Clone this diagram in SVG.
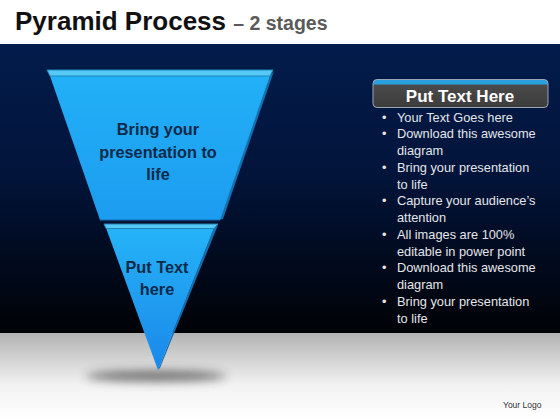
<svg xmlns="http://www.w3.org/2000/svg" width="560" height="420" viewBox="0 0 560 420">
<defs>
<linearGradient id="bg" x1="0" y1="0" x2="0" y2="1">
<stop offset="0" stop-color="#021c4b"/>
<stop offset="0.45" stop-color="#02143a"/>
<stop offset="1" stop-color="#000206"/>
</linearGradient>
<linearGradient id="floor" x1="0" y1="0" x2="0" y2="1">
<stop offset="0" stop-color="#b3b3b3"/>
<stop offset="0.6" stop-color="#f2f2f2"/>
<stop offset="1" stop-color="#ffffff"/>
</linearGradient>
<linearGradient id="face1" x1="0" y1="0" x2="0" y2="1">
<stop offset="0" stop-color="#22b0f7"/>
<stop offset="1" stop-color="#1c9cef"/>
</linearGradient>
<linearGradient id="face2" x1="0" y1="0" x2="0" y2="1">
<stop offset="0" stop-color="#25b3f7"/>
<stop offset="1" stop-color="#1a88ea"/>
</linearGradient>
<linearGradient id="boxg" x1="0" y1="0" x2="0" y2="1">
<stop offset="0" stop-color="#2aa0e0"/>
<stop offset="0.16" stop-color="#2aa0e0"/>
<stop offset="0.2" stop-color="#4a4a4a"/>
<stop offset="1" stop-color="#3c3c3c"/>
</linearGradient>
<filter id="blur" x="-50%" y="-100%" width="200%" height="300%">
<feGaussianBlur stdDeviation="5"/>
</filter>
<style>
.lbl{font-family:"Liberation Sans",Arial,sans-serif;font-weight:bold;font-size:16.3px;fill:#0e2a48;text-anchor:middle}
.bul{font-family:"Liberation Sans",Arial,sans-serif;font-size:12.8px;fill:#e4e6ea}
.top{fill:#56c9f7;stroke:#1f86b8;stroke-width:1}
.side{fill:#1670b0}
</style>
</defs>
<rect x="0" y="0" width="560" height="44" fill="#ffffff"/>
<rect x="0" y="44" width="560" height="289" fill="url(#bg)"/>
<rect x="0" y="333" width="560" height="87" fill="url(#floor)"/>
<text x="15" y="30" font-family="'Liberation Sans',Arial,sans-serif" font-weight="bold" font-size="26" fill="#111111">Pyramid Process <tspan font-size="19.5" fill="#5a5a5a">– 2 stages</tspan></text>
<ellipse cx="156" cy="376" rx="70" ry="6" fill="#333333" opacity="0.6" filter="url(#blur)"/>
<g id="stage1">
<polygon class="side" points="270,76 274,71 223,219 219,220"/>
<polygon points="50,76 270,76 220,220 100,220" fill="url(#face1)"/>
<polygon class="top" points="47,70 273,70 270,76 50,76"/>
<line x1="100" y1="220.5" x2="220" y2="220.5" stroke="#0a3f78" stroke-width="1.5"/>
<text class="lbl" x="158" y="135">Bring your</text>
<text class="lbl" x="158" y="158">presentation to</text>
<text class="lbl" x="158" y="180">life</text>
</g>
<g id="stage2">
<polygon class="side" points="214,228 218,225 160,368 158,370"/>
<polygon points="106,228 214,228 158,370" fill="url(#face2)"/>
<polygon class="top" points="104,224 218,224 214,228.5 106,228.5"/>
<text class="lbl" x="157" y="273">Put Text</text>
<text class="lbl" x="157" y="295">here</text>
</g>
<g id="textbox">
<rect x="373" y="79.5" width="175" height="28" rx="4" fill="url(#boxg)" stroke="#9aa6b4" stroke-width="1"/>
<text x="460" y="101.5" font-family="'Liberation Sans',Arial,sans-serif" font-weight="bold" font-size="17" fill="#ffffff" text-anchor="middle">Put Text Here</text>
<g class="bul">
<text x="382" y="121.5">•</text><text x="397" y="121.5">Your Text Goes here</text>
<text x="382" y="138.3">•</text><text x="397" y="138.3">Download this awesome</text>
<text x="397" y="155">diagram</text>
<text x="382" y="171.8">•</text><text x="397" y="171.8">Bring your presentation</text>
<text x="397" y="188.5">to life</text>
<text x="382" y="205.3">•</text><text x="397" y="205.3">Capture your audience’s</text>
<text x="397" y="222">attention</text>
<text x="382" y="238.8">•</text><text x="397" y="238.8">All images are 100%</text>
<text x="397" y="255.5">editable in power point</text>
<text x="382" y="272.3">•</text><text x="397" y="272.3">Download this awesome</text>
<text x="397" y="289">diagram</text>
<text x="382" y="305.8">•</text><text x="397" y="305.8">Bring your presentation</text>
<text x="397" y="322.5">to life</text>
</g>
</g>
<g id="connectors"/>
<text x="503" y="408" font-family="'Liberation Sans',Arial,sans-serif" font-size="8.5" fill="#333333">Your Logo</text>
</svg>
